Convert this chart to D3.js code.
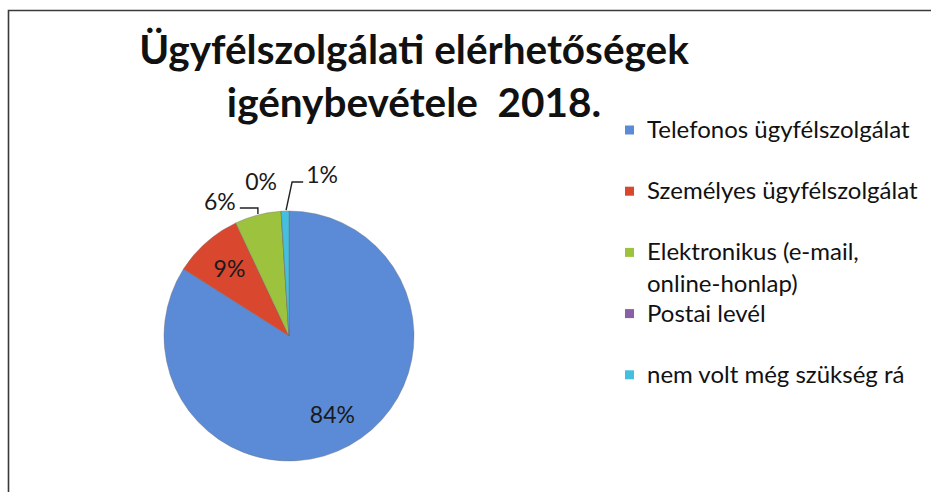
<!DOCTYPE html>
<html>
<head>
<meta charset="utf-8">
<script src="https://cdn.jsdelivr.net/npm/d3@7/dist/d3.min.js"></script>
<style>
  html, body { margin: 0; padding: 0; background: #fff; }
  svg { display: block; }
</style>
</head>
<body>
<svg id="chart" width="931" height="492"></svg>
<script>
// Ügyfélszolgálati elérhetőségek igénybevétele 2018 – megoszlás (%)
const categories = [
  "Telefonos ügyfélszolgálat",
  "Személyes ügyfélszolgálat",
  "Elektronikus (e-mail, online-honlap)",
  "Postai levél",
  "nem volt még szükség rá"
];
const values = [84, 9, 6, 0, 1];
const legendLines = [
  ["Telefonos ügyfélszolgálat"],
  ["Személyes ügyfélszolgálat"],
  ["Elektronikus (e-mail,", "online-honlap)"],
  ["Postai levél"],
  ["nem volt még szükség rá"]
];
const colors = ["#5b8bd6", "#d9472f", "#9dc23e", "#8a5fa3", "#45bfe0"];
const titleLines = ["Ügyfélszolgálati elérhetőségek", "igénybevétele  2018."];

const svg = d3.select("#chart");
const W = 931, H = 492;
const font = "Lato, 'Open Sans', sans-serif";

// chart area frame (top and left edges visible)
svg.append("path")
  .attr("d", `M8.5,${H} V10.5 H${W}`)
  .attr("fill", "none")
  .attr("stroke", "#3a3a3a")
  .attr("stroke-width", 1.6);

// title
const title = svg.append("text")
  .attr("text-anchor", "middle")
  .attr("font-family", font)
  .attr("font-weight", 700)
  .attr("font-size", 40.5)
  .attr("fill", "#111");
titleLines.forEach((t, i) => {
  title.append("tspan")
    .attr("x", 414)
    .attr("y", 64 + i * 53)
    .style("white-space", "pre")
    .attr("xml:space", "preserve")
    .text(t);
});

// pie
const cx = 289, cy = 336, R = 125;
const pie = d3.pie().sort(null).value(d => d.value);
const data = categories.map((c, i) => ({ name: c, value: values[i], color: colors[i] }));
const arcs = pie(data);
const arc = d3.arc().innerRadius(0).outerRadius(R);
const labelArc = d3.arc().innerRadius(90).outerRadius(90);
const edgeArc = d3.arc().innerRadius(R).outerRadius(R);

const g = svg.append("g").attr("transform", `translate(${cx},${cy})`);
g.selectAll("path.slice")
  .data(arcs)
  .join("path")
  .attr("class", "slice")
  .attr("d", arc)
  .attr("fill", d => d.data.color)
  .attr("stroke", "#6d6d6d")
  .attr("stroke-width", 0.4);

const fmt = v => `${v}%`;
const labelSize = 23;

// slices large enough to hold their label inside
const inside = arcs.filter(d => d.data.value >= 9);
g.selectAll("text.in")
  .data(inside)
  .join("text")
  .attr("class", "in")
  .attr("transform", d => `translate(${labelArc.centroid(d)})`)
  .attr("text-anchor", "middle")
  .attr("dy", "0.35em")
  .attr("font-family", font)
  .attr("font-size", labelSize)
  .attr("fill", "#1a1a1a")
  .text(d => fmt(d.data.value));

// small slices: label placed outside, offset from the slice edge
const outsideOffset = { 2: [-38, -13], 3: [-20, -29], 4: [37, -36] };
const leader = { 2: "left", 4: "right" };
const outside = arcs.filter(d => d.data.value < 9);
outside.forEach(d => {
  const i = d.index;
  const [px, py] = edgeArc.centroid(d);
  const [ox, oy] = outsideOffset[i];
  const lx = px + ox, ly = py + oy;
  const t = g.append("text")
    .attr("x", lx).attr("y", ly)
    .attr("text-anchor", "middle")
    .attr("dy", "0.35em")
    .attr("font-family", font)
    .attr("font-size", labelSize)
    .attr("fill", "#1a1a1a")
    .text(fmt(d.data.value));
  const bb = t.node().getBBox();
  if (leader[i] === "left") {
    const sx = bb.x + bb.width + 4, sy = ly + 6;
    g.append("path")
      .attr("d", `M${sx},${sy} H${px} V${py - 1}`)
      .attr("fill", "none").attr("stroke", "#222").attr("stroke-width", 1.4);
  } else if (leader[i] === "right") {
    const sx = bb.x - 3, sy = ly + 7;
    g.append("path")
      .attr("d", `M${sx},${sy} H${px + 7} L${px + 1},${py - 1}`)
      .attr("fill", "none").attr("stroke", "#222").attr("stroke-width", 1.4);
  }
});

// legend
const legend = svg.append("g").attr("transform", "translate(625,130)");
const rowStep = 61.2;
const items = legend.selectAll("g.item")
  .data(data)
  .join("g")
  .attr("class", "item")
  .attr("transform", (d, i) => `translate(0,${i * rowStep})`);
items.append("rect")
  .attr("x", 0).attr("y", -4.5)
  .attr("width", 9).attr("height", 9)
  .attr("fill", d => d.color);
items.each(function (d, i) {
  const t = d3.select(this).append("text")
    .attr("font-family", font)
    .attr("font-size", 24)
    .attr("fill", "#111");
  legendLines[i].forEach((line, j) => {
    t.append("tspan").attr("x", 22).attr("y", 8 + j * 32).text(line);
  });
});
</script>
</body>
</html>
